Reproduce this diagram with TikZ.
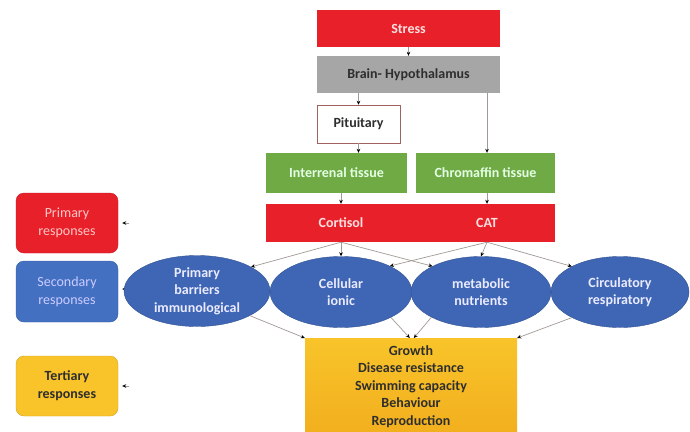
\documentclass[tikz,border=0pt]{standalone}
\usepackage{fontspec}
\setmainfont{Carlito}
\usepackage{tikz}
\usetikzlibrary{positioning}
\usetikzlibrary{arrows.meta}
\usetikzlibrary{shapes.geometric, calc}

\definecolor{hotred}{HTML}{E8202A}
\definecolor{brainGray}{HTML}{A6A6A6}
\definecolor{tissueGreen}{HTML}{6FAA45}
\definecolor{ellBlue}{HTML}{3F66B4}
\definecolor{respBlue}{HTML}{4470C2}
\definecolor{warmYellow}{HTML}{F8C42A}
\definecolor{deepYellow}{HTML}{F2AE1E}
\definecolor{linkGray}{HTML}{A29A95}
\definecolor{pitBorder}{HTML}{A0625E}
\definecolor{darkText}{HTML}{2E2E2E}

\tikzset{
	lbl/.style={font=\fontsize{14}{17.5}\selectfont\bfseries, align=center},
	flatbox/.style={lbl, rectangle, inner sep=0pt},
	redbox/.style={flatbox, fill=hotred, text=white!88!red},
	graybox/.style={flatbox, fill=brainGray, text=darkText},
	greenbox/.style={flatbox, fill=tissueGreen, text=white!90!green, minimum height=40pt},
	resp/.style={lbl, rectangle, rounded corners=8pt, minimum width=102pt, minimum height=60pt, inner sep=0pt},
	effect/.style={lbl, ellipse, fill=ellBlue, draw=ellBlue!80!black, line width=0.4pt, text=white!92!blue, minimum height=71pt, inner sep=0pt},
	link/.style={draw=linkGray, line width=0.7pt, -{Stealth[length=4pt, width=3.6pt, color=black]}},
}

\begin{document}
\begin{tikzpicture}[x=1pt, y=-1pt]
		\useasboundingbox (0,0) rectangle (690,431);
		\fill[white] (0,0) rectangle (690,431);

		% Axis from stress to the hormones
		\node[redbox, minimum width=183pt, minimum height=37pt] (stress) at (408.5,28.5) {Stress};
		\node[graybox, minimum width=183pt, minimum height=37pt] (brain) at (408.5,74.5) {Brain- Hypothalamus};
		\node[flatbox, fill=white, draw=pitBorder, line width=0.5pt, text=darkText, minimum width=83pt, minimum height=38pt] (pit) at (358.5,124) {Pituitary};
		\node[greenbox, minimum width=141pt] (inter) at (336.5,173) {Interrenal tissue};
		\node[greenbox, minimum width=139pt] (chrom) at (485.5,173) {Chromaffin tissue};
		\node[redbox, minimum width=289pt, minimum height=38pt] (horm) at (410.5,223) {};
		\node[lbl, text=white!88!red] (cort) at (341,223) {Cortisol};
		\node[lbl, text=white!88!red] (cat) at (487,223) {CAT};

		% Vertical links
		\draw[link] (stress.south) -- (brain.north);
		\draw[link] (brain.south -| pit.north) -- (pit.north);
		\draw[link] (pit.south) -- (pit.south |- inter.north);
		\draw[link] (brain.south -| cat) -- (cat |- chrom.north);
		\draw[link] (cort |- inter.south) -- (cort |- horm.north);
		\draw[link] (cat |- chrom.south) -- (cat |- horm.north);

		% Response levels on the left
		\node[resp, fill=hotred, draw=hotred!85!black, text=white!78!red, font=\fontsize{14}{18}\selectfont] (prim) at (67,223) {Primary\\responses};
		\node[resp, fill=respBlue, draw=respBlue!85!black, text=white!80!blue, font=\fontsize{14}{18}\selectfont, minimum height=61pt] (sec) at (67,291.5) {Secondary\\responses};
		\node[resp, fill=warmYellow, draw=warmYellow!85!black, text=darkText, font=\fontsize{14}{18}\selectfont\bfseries] (tert) at (67,386) {Tertiary\\responses};

		\coordinate (pa) at (129,223);
		\coordinate (sa) at (129,289);
		\coordinate (ta) at (129,386);
		\draw[link, shorten >=4pt] (pa) -- (prim.east);
		\draw[link, shorten >=4pt] (sa) -- (sec.east |- sa);
		\draw[link, shorten >=4pt] (ta) -- (tert.east);

		% Secondary effects
		\node[effect, minimum width=146pt] (barr) at (197,291) {Primary\\barriers\\immunological};
		\node[effect, minimum width=142pt] (cell) at (341,292) {Cellular\\ionic};
		\node[effect, minimum width=140pt] (meta) at (481,292) {metabolic\\nutrients};
		\node[effect, minimum width=138pt] (circ) at (620,292) {Circulatory\\respiratory};

		% Whole animal effects
		\node[rectangle, top color=warmYellow, bottom color=deepYellow, minimum width=212pt, minimum height=100pt, anchor=north, inner sep=0pt] (whole) at (411,338) {};
		\node[lbl, text=darkText, anchor=north] (wtext) at (411,342) {Growth\\Disease resistance\\Swimming capacity\\Behaviour\\Reproduction};

		% Hormones to the effects
		\draw[link] (cort |- horm.south) -- (barr.24);
		\draw[link] (cort |- horm.south) -- (cell.north);
		\draw[link] (cort |- horm.south) -- (meta.152);
		\draw[link] (cat |- horm.south) -- (cell.28);
		\draw[link] (cat |- horm.south) -- (meta.north);
		\draw[link] (cat |- horm.south) -- (circ.152);

		% Effects to the whole animal
		\draw[link] (barr.-25) -- (whole.north west);
		\draw[link] (cell.-27) -- ($(whole.north west)+(105,0)$);
		\draw[link] (meta.-153) -- ($(whole.north west)+(109,0)$);
		\draw[link] (circ.-152) -- (whole.north east);
	\end{tikzpicture}
\end{document}
